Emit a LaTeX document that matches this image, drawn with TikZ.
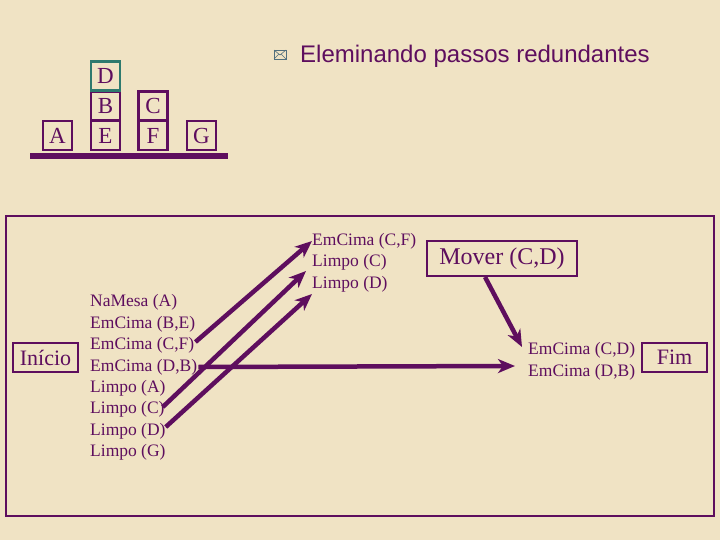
\documentclass[tikz,border=0pt]{standalone}
\usepackage{fontspec}
\setmainfont{Liberation Serif}
\newfontfamily\titlefont{Liberation Sans}
\usetikzlibrary{arrows.meta,calc}
\definecolor{pu}{RGB}{94,14,94}
\definecolor{bgc}{RGB}{240,227,196}
\definecolor{dteal}{RGB}{46,122,110}
\definecolor{envc}{RGB}{80,110,125}
\tikzset{
  block/.style={draw=pu, line width=2.2pt, minimum size=29pt, inner sep=0pt, text=pu, font=\fontsize{23}{23}\selectfont},
  item/.style={anchor=west, inner sep=0pt, text=pu, font=\fontsize{17.5}{17.5}\selectfont},
  bigbox/.style={draw=pu, line width=2pt, inner sep=0pt, text=pu, font=\fontsize{22}{22}\selectfont},
  arr/.style={pu, line width=4.5pt, -{Stealth[length=17pt,width=14pt,inset=5pt]}}
}
\begin{document}
\begin{tikzpicture}[x=1pt,y=-1pt]
\fill[bgc] (0,0) rectangle (720,540);
\useasboundingbox (0,0) rectangle (720,540);
% blocks
\node[block] (A) at (57.5,135.5) {A};
\node[block] (E) at (105.5,135.5) {E};
\node[block] (B) at (105.5,106) {B};
\node[block, draw=dteal] (D) at (105.5,76) {D};
\node[block] (C) at (153,106) {C};
\node[block] (F) at (153,135.5) {F};
\node[block] (G) at (201.5,135.5) {G};
\draw[pu, line width=6pt] (30,156) -- (228,156);
% title
\draw[envc, line width=0.8pt] (274,50) rectangle (286,59);
\draw[envc, line width=0.6pt] (274,50) -- (280,55) -- (286,50) (274,59) -- (278.5,54.5) (286,59) -- (281.5,54.5);
\node[anchor=west, inner sep=0pt, text=pu, font=\titlefont\fontsize{24}{24}\selectfont] (title) at (300,56) {Eleminando passos redundantes};
% frame
\draw[pu, line width=2.5pt] (6,216) rectangle (714,516);
% left
\node[bigbox, minimum width=65pt, minimum height=29pt] (ini) at (45.5,357.5) {Início};
\node[item] (lna) at (90,302) {NaMesa (A)};
\node[item] (lbe) at (90,324) {EmCima (B,E)};
\node[item] (lcf) at (90,345) {EmCima (C,F)};
\node[item] (ldb) at (90,367) {EmCima (D,B)};
\node[item] (lla) at (90,388) {Limpo (A)};
\node[item] (llc) at (90,409) {Limpo (C)};
\node[item] (lld) at (90,431) {Limpo (D)};
\node[item] (llg) at (90,452) {Limpo (G)};
% top middle
\node[item] (tcf) at (312,241) {EmCima (C,F)};
\node[item] (tlc) at (312,262) {Limpo (C)};
\node[item] (tld) at (312,284) {Limpo (D)};
% mover
\node[bigbox, minimum width=150pt, minimum height=35pt, font=\fontsize{24}{24}\selectfont] (mov) at (502,258.5) {Mover (C,D)};
% bottom right
\node[item] (bcd) at (528,350) {EmCima (C,D)};
\node[item] (bdb) at (528,372) {EmCima (D,B)};
\node[bigbox, minimum width=65pt, minimum height=29pt] (fim) at (674.5,357.5) {Fim};
% arrows
\draw[arr] ($(lcf.east)+(1,-3)$) -- (tcf.west);
\draw[arr] ($(llc.east)+(-2,-2)$) -- ($(tlc.west)+(-6,9)$);
\draw[arr] ($(lld.east)+(0,-4)$) -- ($(tld.west)+(0,10)$);
\draw[arr] ($(ldb.east)+(1,0)$) -- ($(bcd.west)!0.5!(bdb.west)+(-13,5)$);
\draw[arr] ($(mov.south)+(-17,0)$) -- ($(bcd.west)+(-6,-3)$);
\end{tikzpicture}
\end{document}
